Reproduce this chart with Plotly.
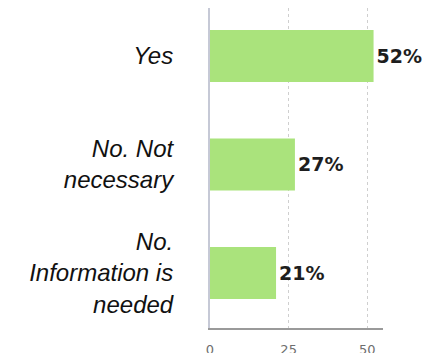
import plotly.graph_objects as go

categories = ["Yes", "No. Not<br>necessary", "No.<br>Information is<br>needed"]
values = [52, 27, 21]
x_tick_values = [0, 25, 50]
x_tick_labels = ["0", "25", "50"]

fig = go.Figure(
    go.Bar(
        x=values,
        y=categories,
        orientation="h",
        width=0.48,
        marker=dict(color="#aae37c", line=dict(width=0)),
        text=[f"{v}%" for v in values],
        textposition="outside",
        textfont=dict(family="DejaVu Sans", size=19, color="#1e1e1e", weight="bold"),
        cliponaxis=False,
        constraintext="none",
        hoverinfo="skip",
    )
)

fig.update_layout(
    width=432,
    height=353,
    margin=dict(l=202, r=57, t=0, b=33, autoexpand=False),
    paper_bgcolor="white",
    plot_bgcolor="white",
    showlegend=False,
)

fig.update_xaxes(
    range=[0, 55],
    tickvals=x_tick_values,
    ticktext=x_tick_labels,
    showgrid=True,
    gridcolor="#cfcfcf",
    griddash="dot",
    gridwidth=1,
    zeroline=False,
    showline=True,
    linecolor="#9a9a9a",
    linewidth=2,
    ticks="",
    automargin=False,
    ticklabelstandoff=8,
    tickfont=dict(family="DejaVu Sans", size=13, color="#6e6e6e"),
)

fig.update_yaxes(
    autorange=False,
    range=[2.507, -0.442],
    categoryorder="array",
    categoryarray=categories,
    showgrid=False,
    zeroline=False,
    showline=True,
    linecolor="#c6c9d6",
    linewidth=2,
    ticks="",
    automargin=False,
    ticklabelstandoff=30,
    tickfont=dict(family="Liberation Sans", size=24, color="#111111", style="italic"),
)

fig.write_html("out.html")
